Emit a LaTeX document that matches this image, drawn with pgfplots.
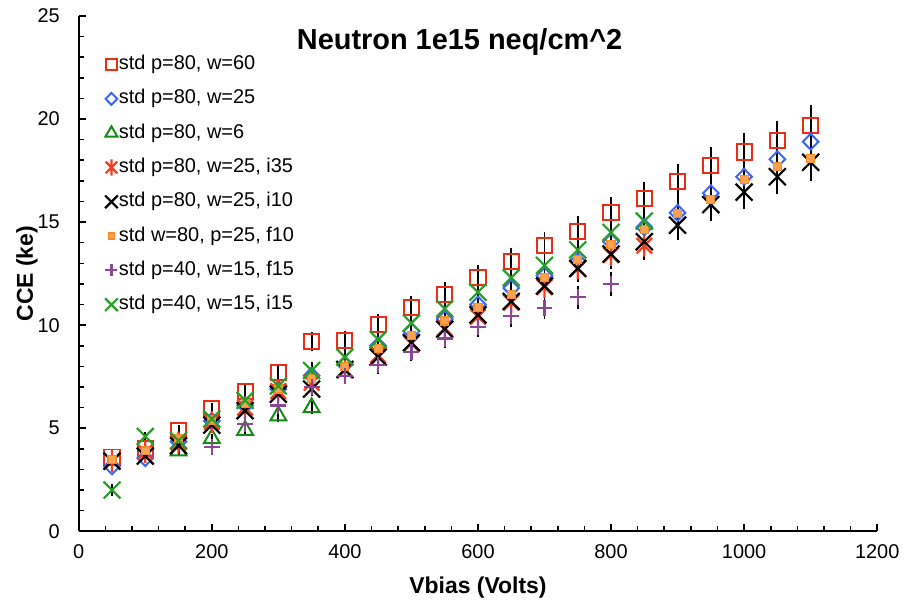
\documentclass[border=0pt]{standalone}
\usepackage{fontspec}
\setmainfont{Liberation Sans}
\usepackage{pgfplots}
\pgfplotsset{compat=1.18}
\definecolor{sqred}{RGB}{236,44,20}
\definecolor{dblue}{RGB}{60,100,245}
\definecolor{tgreen}{RGB}{20,140,20}
\definecolor{ared}{RGB}{245,60,30}
\definecolor{sorange}{RGB}{245,140,40}
\definecolor{ppurple}{RGB}{140,70,150}
\definecolor{xgreen}{RGB}{40,160,40}
\pgfdeclareplotmark{xbar}{%
 \pgfpathmoveto{\pgfqpoint{-.7071\pgfplotmarksize}{-.7071\pgfplotmarksize}}%
 \pgfpathlineto{\pgfqpoint{.7071\pgfplotmarksize}{.7071\pgfplotmarksize}}%
 \pgfpathmoveto{\pgfqpoint{-.7071\pgfplotmarksize}{.7071\pgfplotmarksize}}%
 \pgfpathlineto{\pgfqpoint{.7071\pgfplotmarksize}{-.7071\pgfplotmarksize}}%
 \pgfpathmoveto{\pgfqpoint{0pt}{-\pgfplotmarksize}}%
 \pgfpathlineto{\pgfqpoint{0pt}{\pgfplotmarksize}}%
 \pgfusepathqstroke}
\pgfplotsset{eb/.style={error bars/.cd, y dir=both, y fixed relative=0.05, error mark=none,
  error bar style={black, line width=1pt}}}
\begin{document}
\begin{tikzpicture}
\begin{axis}[
 scale only axis, width=400.5pt, height=258.5pt,
 xmin=0, xmax=1200, ymin=0, ymax=25,
 xtick={0,200,...,1200}, ytick={0,5,...,25},
 minor tick num=4,
 axis lines*=left,
 axis line style={-, line width=0.8pt, black},
 tick align=inside, major tick length=3.5pt, minor tick length=2.5pt,
 every tick/.style={black, line width=0.8pt},
 ticklabel style={font=\fontsize{10}{12}\selectfont},
 /pgf/number format/assume math mode=true,
 /pgf/number format/1000 sep={},
 yticklabel style={xshift=-6pt},
 xticklabel style={yshift=-3pt},
 xlabel={Vbias (Volts)}, ylabel={CCE (ke)},
 label style={font=\fontsize{11.5}{13}\selectfont\bfseries},
 xlabel style={at={(axis description cs:0.5,-0.11)}, anchor=center},
 ylabel style={at={(axis description cs:-0.065,0.5)}, anchor=center},
 title={Neutron 1e15 neq/cm\textasciicircum{}2},
 title style={at={(axis description cs:0.477,0.927)}, anchor=center, font=\fontsize{14.5}{17}\selectfont\bfseries},
 legend style={at={(0.0325,0.928)}, anchor=north west, draw=none, fill=none,
   font=\fontsize{10}{12}\selectfont, row sep=6pt, inner sep=0pt,
   nodes={inner sep=0.6pt, text height=7.5pt, text depth=2.5pt}},
 legend cell align=left,
 legend image code/.code={\draw[#1,/tikz/every mark/.append style={scale=0.75}, mark repeat=2, mark phase=2] plot coordinates {(0pt,0pt)(4.5pt,0pt)(9pt,0pt)};},
]
% std p=80, w=60
\addplot[only marks, mark=square, mark size=3.8pt, mark options={draw=sqred, line width=1pt}, eb] table {
x y
50 3.6
100 4.0
150 4.9
200 5.95
250 6.8
300 7.7
350 9.2
400 9.25
450 10.05
500 10.85
550 11.5
600 12.3
650 13.1
700 13.85
750 14.55
800 15.45
850 16.15
900 16.95
950 17.75
1000 18.4
1050 18.95
1100 19.7
};
\addlegendentry{std p=80, w=60}
% std p=80, w=25
\addplot[only marks, mark=diamond, mark size=4pt, mark options={draw=dblue, line width=1pt, xscale=1.3}, eb] table {
x y
50 3.15
100 3.55
150 4.35
200 5.35
250 6.1
300 6.9
350 7.55
400 8.1
450 9.0
500 9.7
550 10.3
600 11.0
650 11.8
700 12.4
750 13.1
800 14.05
850 14.75
900 15.45
950 16.4
1000 17.2
1050 18.05
1100 18.9
};
\addlegendentry{std p=80, w=25}
% std p=80, w=6
\addplot[only marks, mark=triangle, mark size=4.6pt, mark options={draw=tgreen, line width=1pt}, eb] table {
x y
150 3.9
200 4.5
250 4.9
300 5.6
350 6.0
};
\addlegendentry{std p=80, w=6}
% std p=80, w=25, i35
\addplot[only marks, mark=xbar, mark size=5.5pt, mark options={draw=ared, line width=1.1pt}, eb] table {
x y
50 3.4
100 3.85
150 4.3
200 5.3
250 6.0
300 6.8
350 7.2
400 7.8
450 8.55
500 9.1
550 9.85
600 10.4
650 11.1
700 11.85
750 12.75
800 13.4
850 13.85
};
\addlegendentry{std p=80, w=25, i35}
% std p=80, w=25, i10
\addplot[only marks, mark=x, mark size=6pt, mark options={draw=black, line width=1.1pt}, eb] table {
x y
50 3.4
100 3.65
150 4.15
200 5.15
250 5.85
300 6.65
350 6.9
400 7.85
450 8.45
500 9.15
550 9.8
600 10.5
650 11.15
700 11.9
750 12.75
800 13.45
850 14.05
900 14.85
950 15.85
1000 16.45
1050 17.2
1100 17.9
};
\addlegendentry{std p=80, w=25, i10}
% std w=80, p=25, f10
\addplot[only marks, mark=square*, mark size=2pt, mark options={draw=sorange, fill=sorange!80, line width=0.6pt}, eb] table {
x y
50 3.5
100 3.9
150 4.5
200 5.4
250 6.2
300 6.9
350 7.4
400 8.0
450 8.85
500 9.5
550 10.2
600 10.85
650 11.5
700 12.3
750 13.2
800 13.9
850 14.65
900 15.4
950 16.1
1000 17.05
1050 17.7
1100 18.1
};
\addlegendentry{std w=80, p=25, f10}
% std p=40, w=15, f15
\addplot[only marks, mark=+, mark size=4pt, mark options={draw=ppurple, line width=1.1pt}, eb] table {
x y
200 4.1
250 5.2
300 6.1
350 7.0
400 7.55
450 8.05
500 8.7
550 9.35
600 9.9
650 10.45
700 10.85
750 11.35
800 12.0
};
\addlegendentry{std p=40, w=15, f15}
% std p=40, w=15, i15
\addplot[only marks, mark=x, mark size=6pt, mark options={draw=xgreen, line width=1.1pt},
  error bars/.cd, y dir=both, y explicit, error mark=none, error bar style={black, line width=1pt}]
  table[x=x, y=y, y error=e] {
x y e
50 2.0 0.3
100 4.6 0.23
150 4.4 0.22
200 5.45 0.27
250 6.35 0.32
300 7.05 0.35
350 7.8 0.39
400 8.45 0.42
450 9.3 0.47
500 10.1 0.5
550 10.8 0.54
600 11.6 0.58
650 12.3 0.62
700 12.9 0.65
750 13.65 0.68
800 14.5 0.73
850 15.05 0.75
};
\addlegendentry{std p=40, w=15, i15}
\end{axis}
\path (current axis.south west) ++(-39.5pt,-36.5pt) rectangle ++(453pt,303pt);
\end{tikzpicture}
\end{document}
